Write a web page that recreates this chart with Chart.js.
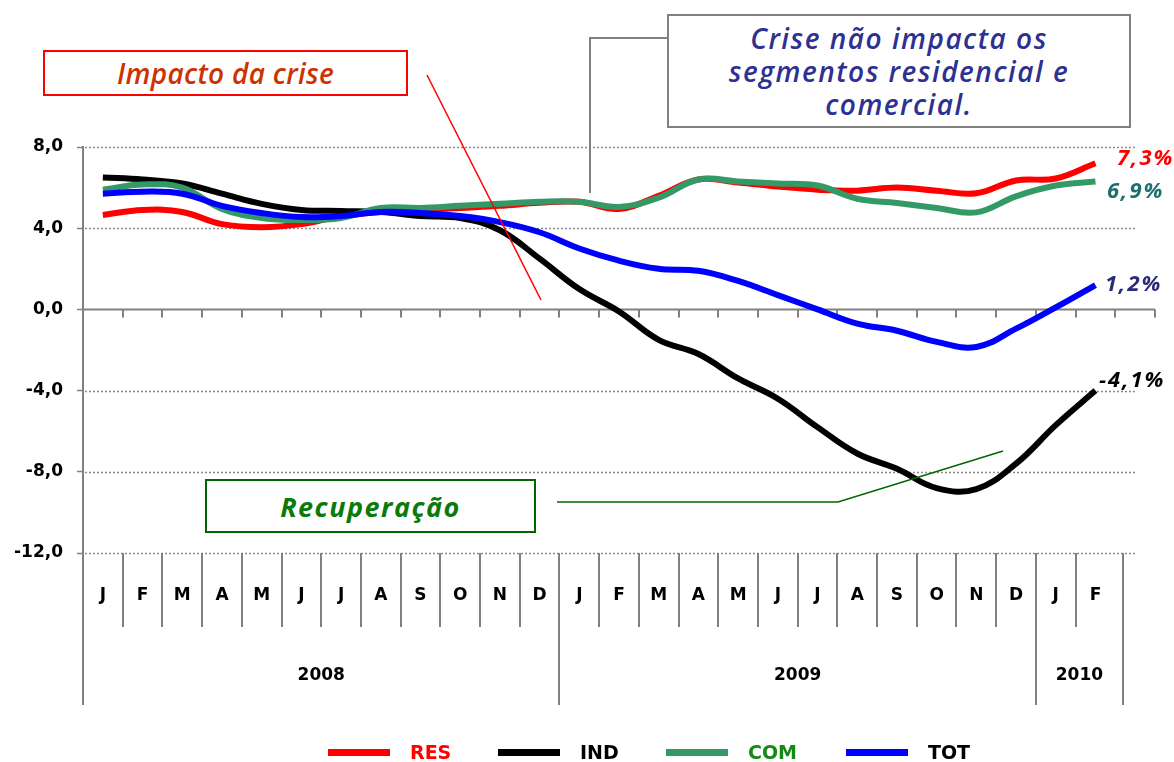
<!DOCTYPE html>
<html>
<head>
<meta charset="utf-8">
<script src="https://cdn.jsdelivr.net/npm/chart.js@4.4.0/dist/chart.umd.min.js"></script>
<style>
html,body{margin:0;padding:0;background:#fff;}
#wrap{position:relative;width:1174px;height:762px;overflow:hidden;background:#fff;}
#c{position:absolute;left:0;top:0;}
.box{position:absolute;box-sizing:border-box;background:#fff;display:flex;align-items:center;justify-content:center;text-align:center;font-family:'Open Sans','Noto Sans',sans-serif;font-style:italic;}
.lbl{position:absolute;font-family:'Open Sans','Noto Sans',sans-serif;font-style:italic;font-weight:700;font-size:22px;letter-spacing:2px;white-space:nowrap;line-height:1;}
.lg{position:absolute;top:740px;height:24px;display:flex;align-items:center;font-family:'DejaVu Sans',sans-serif;font-weight:bold;font-size:19px;}
.lg span.sw{display:inline-block;width:62px;height:7px;margin-right:20px;}
svg{position:absolute;left:0;top:0;}
</style>
</head>
<body>
<div id="wrap">
<canvas id="c" width="1174" height="762"></canvas>
<svg width="1174" height="762">
  <line x1="427" y1="75" x2="541" y2="300" stroke="#ff0000" stroke-width="1.5"/>
  <polyline points="667,38 590,38 590,193" fill="none" stroke="#808080" stroke-width="2"/>
  <polyline points="557,502 838,502 1003,451" fill="none" stroke="#006600" stroke-width="1.5"/>
</svg>
<div class="box" style="left:43px;top:50px;width:365px;height:46px;border:2px solid #ff0000;color:#cc3300;font-size:28px;font-weight:600;letter-spacing:0.3px;">Impacto da crise</div>
<div class="box" style="left:667px;top:14px;width:464px;height:114px;border:2px solid #808080;color:#2e3192;font-size:28px;font-weight:600;letter-spacing:1.5px;line-height:33px;">Crise não impacta os<br>segmentos residencial e<br>comercial.</div>
<div class="box" style="left:205px;top:479px;width:331px;height:54px;border:2px solid #006600;color:#0a7a0a;font-size:27px;font-weight:700;letter-spacing:1.5px;">Recuperação</div>
<div class="lbl" style="left:1117px;top:145px;color:#ff0000;">7,3%</div>
<div class="lbl" style="left:1107px;top:178px;color:#1f6f6f;">6,9%</div>
<div class="lbl" style="left:1105px;top:271px;color:#2b2b7a;">1,2%</div>
<div class="lbl" style="left:1099px;top:367px;color:#000;">-4,1%</div>
<div class="lg" style="left:328px;"><span class="sw" style="background:#ff0000"></span><span style="color:#ff0000">RES</span></div>
<div class="lg" style="left:498px;"><span class="sw" style="background:#000"></span><span style="color:#000">IND</span></div>
<div class="lg" style="left:666px;"><span class="sw" style="background:#339966"></span><span style="color:#138a13">COM</span></div>
<div class="lg" style="left:846px;"><span class="sw" style="background:#0000ff"></span><span style="color:#000">TOT</span></div>
</div>
<script>
// ---- data ----
const months = ['J','F','M','A','M','J','J','A','S','O','N','D','J','F','M','A','M','J','J','A','S','O','N','D','J','F',''];
const years = [['2008',0,11],['2009',12,23],['2010',24,25]];
const yTicks = [8,4,0,-4,-8,-12];
const RES = [4.65,4.9,4.8,4.2,4.05,4.2,4.6,4.8,4.9,5.0,5.1,5.25,5.3,4.95,5.6,6.4,6.25,6.05,5.9,5.85,6.0,5.85,5.72,6.35,6.45,7.2];
const IND = [6.5,6.4,6.2,5.7,5.2,4.9,4.85,4.8,4.6,4.5,3.9,2.5,1.0,-0.1,-1.5,-2.2,-3.4,-4.4,-5.8,-7.1,-7.85,-8.8,-8.85,-7.6,-5.7,-4.0];
const COM = [5.9,6.15,6.0,4.95,4.5,4.4,4.5,5.0,5.0,5.1,5.2,5.3,5.3,5.05,5.5,6.4,6.3,6.2,6.1,5.45,5.24,5.0,4.78,5.57,6.1,6.3];
const TOT = [5.7,5.8,5.7,5.1,4.75,4.55,4.6,4.8,4.75,4.6,4.3,3.8,3.0,2.4,2.0,1.9,1.4,0.7,0.0,-0.7,-1.05,-1.6,-1.85,-0.95,0.1,1.2];

const GRAY = '#808080';
const bg = {
  id:'bgdeco',
  beforeDatasetsDraw(chart){
    const {ctx, chartArea:a, scales:{x,y}} = chart;
    ctx.save();
    ctx.strokeStyle = '#8c8c8c'; ctx.lineWidth = 1.5; ctx.setLineDash([2,2]);
    yTicks.forEach(v=>{ if(v===0) return; const py=Math.round(y.getPixelForValue(v))+0.5;
      ctx.beginPath(); ctx.moveTo(a.left+2,py); ctx.lineTo(a.right-18,py); ctx.stroke(); });
    ctx.setLineDash([]);
    const z = y.getPixelForValue(0);
    ctx.strokeStyle = GRAY; ctx.lineWidth = 2;
    ctx.beginPath(); ctx.moveTo(a.left,z); ctx.lineTo(a.right,z); ctx.stroke();
    const step = x.getPixelForValue(1)-x.getPixelForValue(0);
    for(let k=1;k<=months.length;k++){
      const px = Math.round(x.getPixelForValue(k-1)+step/2);
      ctx.beginPath(); ctx.moveTo(px,z); ctx.lineTo(px,z+8); ctx.stroke();
    }
    const b = a.bottom;
    ctx.beginPath(); ctx.moveTo(a.left,b); ctx.lineTo(a.left,b+152); ctx.stroke();
    for(let k=1;k<26;k++){
      const px = Math.round(x.getPixelForValue(k-1)+step/2);
      const yearEdge = (k===12||k===24);
      ctx.beginPath(); ctx.moveTo(px,b); ctx.lineTo(px,b+(yearEdge?152:74)); ctx.stroke();
    }
    const endX = Math.round(x.getPixelForValue(25)+step*0.7);
    ctx.beginPath(); ctx.moveTo(endX,b); ctx.lineTo(endX,b+152); ctx.stroke();
    ctx.fillStyle='#000'; ctx.font='bold 17px "DejaVu Sans", sans-serif';
    ctx.textAlign='center'; ctx.textBaseline='middle';
    for(let k=0;k<26;k++) ctx.fillText(months[k], x.getPixelForValue(k), b+43);
    years.forEach(([t,s,e])=>{
      const l = s===0? a.left : x.getPixelForValue(s)-step/2;
      const r = e===25? endX : x.getPixelForValue(e)+step/2;
      ctx.fillText(t,(l+r)/2,b+123);
    });
    ctx.restore();
  }
};

const mk = (label,data,color,order)=>({label,data,borderColor:color,backgroundColor:color,borderWidth:6,pointRadius:0,tension:0.4,order,borderCapStyle:'butt',borderJoinStyle:'round'});

new Chart(document.getElementById('c'),{
  type:'line',
  data:{labels:months,datasets:[mk('RES',RES,'#ff0000',4),mk('IND',IND,'#000000',3),mk('COM',COM,'#339966',2),mk('TOT',TOT,'#0000ff',1)]},
  options:{
    responsive:false,animation:false,devicePixelRatio:1,
    layout:{padding:{left:0,right:19,top:147,bottom:209}},
    plugins:{legend:{display:false},tooltip:{enabled:false}},
    scales:{
      x:{display:false,offset:true},
      y:{min:-12,max:8,
         afterFit(s){s.width=83;},
         ticks:{stepSize:4,padding:14,color:'#000',font:{family:'DejaVu Sans',weight:'bold',size:17},callback:v=>v.toFixed(1).replace('.',',')},
         grid:{drawOnChartArea:false,drawTicks:true,tickLength:6,tickColor:GRAY,tickWidth:1.5},
         border:{color:GRAY,width:2}}
    }
  },
  plugins:[bg]
});
</script>
</body>
</html>
